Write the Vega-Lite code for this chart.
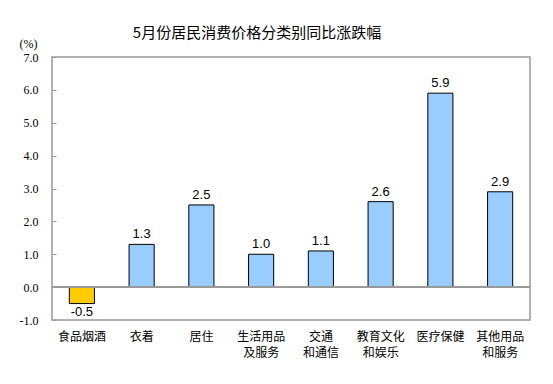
{
  "$schema": "https://vega.github.io/schema/vega-lite/v6.json",
  "width": 478,
  "height": 263,
  "autosize": "none",
  "padding": {"left": 52, "top": 57, "right": 23, "bottom": 64},
  "background": "white",
  "config": {
    "view": {"stroke": "#999999", "strokeWidth": 1.5},
    "locale": {"number": {"decimal": ".", "thousands": ",", "grouping": [3], "currency": ["$", ""], "minus": "-"}}
  },
  "title": {
    "text": "5月份居民消费价格分类别同比涨跌幅",
    "font": "Noto Sans CJK SC",
    "fontSize": 15,
    "fontWeight": "normal",
    "color": "#000000",
    "anchor": "middle",
    "frame": "group",
    "dx": -34,
    "offset": -4
  },
  "data": {
    "values": [
      {"category": "食品烟酒", "value": -0.5},
      {"category": "衣着", "value": 1.3},
      {"category": "居住", "value": 2.5},
      {"category": "生活用品|及服务", "value": 1.0},
      {"category": "交通|和通信", "value": 1.1},
      {"category": "教育文化|和娱乐", "value": 2.6},
      {"category": "医疗保健", "value": 5.9},
      {"category": "其他用品|和服务", "value": 2.9}
    ]
  },
  "encoding": {
    "x": {
      "field": "category",
      "type": "nominal",
      "sort": null,
      "scale": {"paddingInner": 0.58, "paddingOuter": 0.29},
      "axis": {
        "title": null,
        "labelAngle": 0,
        "ticks": false,
        "domain": false,
        "labelFont": "Noto Sans CJK SC",
        "labelFontSize": 12,
        "labelColor": "#000000",
        "labelPadding": 11,
        "labelBaseline": "top",
        "labelLineHeight": 16,
        "labelExpr": "split(datum.label, '|')"
      }
    },
    "y": {
      "field": "value",
      "type": "quantitative",
      "scale": {"domain": [-1, 7], "nice": false, "zero": false},
      "axis": {
        "title": "(%)",
        "titleAngle": 0,
        "titleX": -24,
        "titleY": -14,
        "titleAlign": "center",
        "titleBaseline": "middle",
        "titleFont": "Liberation Serif",
        "titleFontSize": 12,
        "titleFontWeight": "normal",
        "titleColor": "#000000",
        "values": [-1, 0, 1, 2, 3, 4, 5, 6, 7],
        "format": ".1f",
        "grid": false,
        "domain": false,
        "tickSize": -4,
        "tickColor": "#999999",
        "labelFont": "Liberation Serif",
        "labelFontSize": 12,
        "labelColor": "#000000",
        "labelPadding": 18
      }
    }
  },
  "layer": [
    {
      "mark": {"type": "bar", "stroke": "#000000", "strokeWidth": 1},
      "encoding": {
        "color": {
          "condition": {"test": "datum.value < 0", "value": "#FFCC00"},
          "value": "#99CCFF"
        }
      }
    },
    {
      "transform": [{"filter": "datum.value >= 0"}],
      "mark": {"type": "text", "baseline": "bottom", "dy": -3, "font": "Liberation Sans", "fontSize": 13, "color": "#000000"},
      "encoding": {"text": {"field": "value", "type": "quantitative", "format": ".1f"}}
    },
    {
      "transform": [{"filter": "datum.value < 0"}],
      "mark": {"type": "text", "baseline": "top", "dy": 2, "font": "Liberation Sans", "fontSize": 13, "color": "#000000"},
      "encoding": {"text": {"field": "value", "type": "quantitative", "format": ".1f"}}
    },
    {
      "mark": {"type": "rule", "color": "#999999", "strokeWidth": 1},
      "encoding": {"y": {"datum": 0}, "x": null}
    }
  ]
}
